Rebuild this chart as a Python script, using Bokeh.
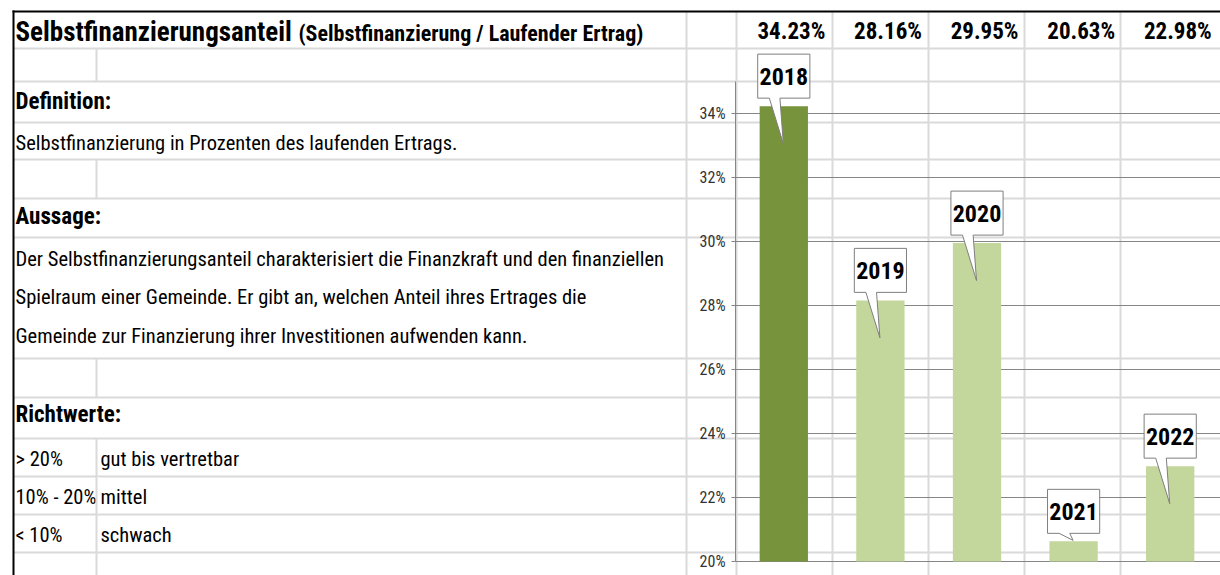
from bokeh.plotting import figure
from bokeh.models import Range1d, LinearAxis, FixedTicker, PrintfTickFormatter
from bokeh.core.properties import value
from bokeh.embed import file_html
from bokeh.resources import INLINE

# ---------------- data ----------------
years = ["2018", "2019", "2020", "2021", "2022"]
shares = [34.23, 28.16, 29.95, 20.63, 22.98]
tick_values = [20, 22, 24, 26, 28, 30, 32, 34]

title_main = "Selbstfinanzierungsanteil"
title_sub = "(Selbstfinanzierung / Laufender Ertrag)"
definition_head = "Definition:"
definition_text = "Selbstfinanzierung in Prozenten des laufenden Ertrags."
statement_head = "Aussage:"
statement_lines = [
    "Der Selbstfinanzierungsanteil charakterisiert die Finanzkraft und den finanziellen",
    "Spielraum einer Gemeinde. Er gibt an, welchen Anteil ihres Ertrages die",
    "Gemeinde zur Finanzierung ihrer Investitionen aufwenden kann.",
]
guide_head = "Richtwerte:"
guide_ranges = ["> 20%", "10% - 20%", "< 10%"]
guide_labels = ["gut bis vertretbar", "mittel", "schwach"]

# ---------------- layout / style ----------------
FONT = "Roboto Condensed, DejaVu Sans Condensed, Liberation Sans"
W, H = 1220, 575
X0, X1, YT, YB = 0, 1220, 0, 575           # sheet pixel window
AX_X, CAT_W = 735, 96.6                    # chart axis position, category width
BASE_Y, PX_PCT = 561, 32.0                 # pixel of 20 %, pixels per percent
SHEET_LINE = "#dadada"
GRID = "#868686"
DARK, LIGHT = "#77933C", "#C3D69B"

p = figure(width=W, height=H, x_range=Range1d(X0, X1), y_range=Range1d(YB, YT),
           x_axis_type=None, y_axis_type=None, toolbar_location=None,
           output_backend="svg", min_border=0, outline_line_color=None,
           background_fill_color="white", border_fill_color="white")
p.extra_x_ranges = {"chart": Range1d((X0 - AX_X) / CAT_W, (X1 - AX_X) / CAT_W)}
p.extra_y_ranges = {"pct": Range1d(tick_values[0] - (YB - BASE_Y) / PX_PCT,
                                   tick_values[0] + (BASE_Y - YT) / PX_PCT)}
chart_end = (X1 - AX_X) / CAT_W

# spreadsheet grid
rows = [48, 81, 122, 159, 198, 237, 358, 397, 438, 476, 514, 552]
p.segment(x0=13, x1=X1, y0=rows, y1=rows, line_color=SHEET_LINE, line_width=2)
cols = [686, 736, 832, 928, 1024, 1120]
p.segment(x0=cols, x1=cols, y0=11, y1=YB, line_color=SHEET_LINE, line_width=2)

# spreadsheet texts
def txt(x, y, t, size, bold=False, **kw):
    p.text(x=[x], y=[y], text=[t], text_font=value(FONT), text_font_size=size,
           text_font_style="bold" if bold else "normal", text_color="black",
           text_baseline="middle", text_align="left", **kw)

txt(15, 31, title_main, "27px", True)
txt(298, 33, title_sub, "22px", True)
txt(15, 101, definition_head, "23px", True)
txt(15, 142, definition_text, "20.5px")
txt(15, 216, statement_head, "23px", True)
for i, line in enumerate(statement_lines):
    txt(15, 258 + 38.5 * i, line, "20.5px")
txt(15, 414, guide_head, "23px", True)
for i, (r, l) in enumerate(zip(guide_ranges, guide_labels)):
    txt(15, 458 + 38 * i, r, "20.5px")
# clip overflow of the first column
p.quad(left=96, right=99.5, top=477, bottom=513, fill_color="white", line_color=None)
for i, (r, l) in enumerate(zip(guide_ranges, guide_labels)):
    txt(100, 458 + 38 * i, l, "20.5px")
for a, b in [(48, 81), (159, 198), (358, 397), (438, YB)]:
    p.segment(x0=[96], x1=[96], y0=[a], y1=[b], line_color=SHEET_LINE, line_width=2)

# black border
p.segment(x0=[12], x1=[X1], y0=[11], y1=[11], line_color="black", line_width=2)
p.segment(x0=[13], x1=[13], y0=[10], y1=[YB], line_color="black", line_width=2)

# chart gridlines
p.segment(x0=0, x1=chart_end, y0=tick_values, y1=tick_values,
          x_range_name="chart", y_range_name="pct", line_color=GRID, line_width=1)

# bars
centers = [i + 0.5 for i in range(len(years))]
colors = [DARK] + [LIGHT] * (len(years) - 1)
p.vbar(x=centers, top=shares, bottom=tick_values[0], width=0.5, fill_color=colors,
       line_color=None, x_range_name="chart", y_range_name="pct")

# header row with values
p.text(x=[i + 1 - 0.07 for i in range(len(years))], y=[31] * len(years),
       text=[f"{v:.2f}%" for v in shares], x_range_name="chart",
       text_font=value(FONT), text_font_size="23px", text_font_style="bold",
       text_align="right", text_baseline="middle", text_color="black")

# callouts
gap, box_h, half_w = 0.25, 1.375, 0.27
xs, ys, lx, ly = [], [], [], []
for c, v in zip(centers, shares):
    yb = v + gap
    yt = yb + box_h
    tip = v - 1.17 if v - 1.17 >= tick_values[0] + 0.5 else v + 0.03
    xs.append([c - half_w, c - 0.15, c - 0.005, c - 0.04, c + half_w, c + half_w, c - half_w])
    ys.append([yb, yb, tip, yb, yb, yt, yt])
    lx.append(c)
    ly.append(yb + box_h / 2)
p.patches(xs=xs, ys=ys, fill_color="white", line_color="#7f7f7f", line_width=1,
          x_range_name="chart", y_range_name="pct")
p.text(x=lx, y=ly, text=years, x_range_name="chart", y_range_name="pct",
       text_font=value(FONT), text_font_size="24px", text_font_style="bold",
       text_align="center", text_baseline="middle", text_color="black")

# value axis
ax = LinearAxis(x_range_name="chart", y_range_name="pct", fixed_location=0,
                bounds=(20, 35), ticker=FixedTicker(ticks=tick_values),
                formatter=PrintfTickFormatter(format="%d%%"))
ax.axis_line_color = GRID
ax.major_tick_line_color = GRID
ax.major_tick_out = 4
ax.major_tick_in = 0
ax.minor_tick_line_color = None
ax.major_label_standoff = 6
ax.major_label_text_font = FONT
ax.major_label_text_font_size = "16px"
ax.major_label_text_color = "#333333"
p.add_layout(ax, "left")

open("out.html", "w").write(file_html(p, INLINE))
